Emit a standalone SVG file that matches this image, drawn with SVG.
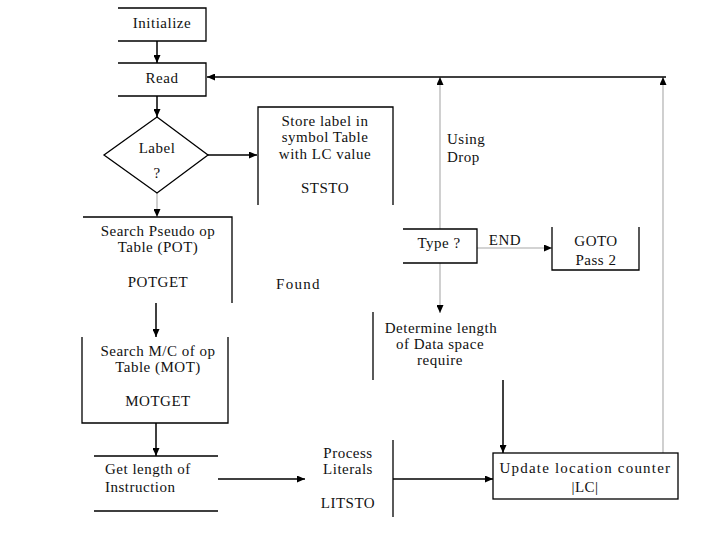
<svg xmlns="http://www.w3.org/2000/svg" width="720" height="540" viewBox="0 0 720 540">
<style>
.ln{stroke:#000;stroke-width:1.3;fill:none}
.cb{stroke:#000;stroke-width:1.5;fill:none}
.cg{stroke:#c4c4c4;stroke-width:1.6;fill:none}
.t{font-family:"Liberation Serif","Times New Roman","DejaVu Serif",serif;font-size:15px;letter-spacing:0.5px;fill:#111;text-anchor:middle}
.l{text-anchor:start}
</style>
<defs>
<marker id="ah" markerUnits="userSpaceOnUse" markerWidth="8" markerHeight="7" refX="8" refY="3.5" orient="auto">
<path d="M0,0 L8,3.5 L0,7 z" fill="#000"/>
</marker>
</defs>
<rect width="720" height="540" fill="#fff"/>
<g id="connectors">
<line class="cb" x1="157" y1="41" x2="157" y2="63" marker-end="url(#ah)"/>
<line class="cb" x1="157" y1="96" x2="157" y2="117" marker-end="url(#ah)"/>
<line class="cb" x1="208" y1="155" x2="257" y2="155" marker-end="url(#ah)"/>
<line class="cg" x1="157" y1="193" x2="157" y2="217" marker-end="url(#ah)"/>
<line class="cb" x1="156" y1="303" x2="156" y2="337" marker-end="url(#ah)"/>
<line class="cb" x1="156" y1="423" x2="156" y2="456" marker-end="url(#ah)"/>
<line class="cb" x1="218" y1="479" x2="305" y2="479" marker-end="url(#ah)"/>
<line class="cb" x1="393" y1="479" x2="493" y2="479" marker-end="url(#ah)"/>
<line class="cb" x1="503" y1="380" x2="503" y2="453" marker-end="url(#ah)"/>
<line class="cg" x1="440" y1="263" x2="440" y2="313" marker-end="url(#ah)"/>
<line class="cg" x1="477" y1="248" x2="552" y2="248" marker-end="url(#ah)"/>
<line class="cg" x1="440" y1="229" x2="440" y2="77" marker-end="url(#ah)"/>
<line class="cg" x1="663" y1="453" x2="663" y2="77" marker-end="url(#ah)"/>
<line class="cb" x1="666" y1="77" x2="207" y2="77" marker-end="url(#ah)"/>
</g>
<g id="initialize">
<path class="ln" d="M118,8 H206 V41 H118"/>
<text class="t" x="162" y="28">Initialize</text>
</g>
<g id="read">
<path class="ln" d="M118,63 H206 V96 H118"/>
<text class="t" x="162" y="83">Read</text>
</g>
<g id="label">
<path class="ln" d="M157,117 L208,155 L157,193 L104,155 Z"/>
<text class="t" x="157" y="153">Label</text>
<text class="t" x="157" y="178">?</text>
</g>
<g id="ststo">
<path class="ln" d="M258,205 V107 H393 V205"/>
<text class="t" x="325" y="126">Store label in</text>
<text class="t" x="325" y="142">symbol Table</text>
<text class="t" x="325" y="159">with LC value</text>
<text class="t" x="325" y="193">STSTO</text>
</g>
<g id="potget">
<path class="ln" d="M83,217 H232 V303"/>
<text class="t" x="158" y="236">Search Pseudo op</text>
<text class="t" x="158" y="252">Table (POT)</text>
<text class="t" x="158" y="287">POTGET</text>
</g>
<g id="found">
<text class="t l" x="276" y="289" textLength="44">Found</text>
</g>
<g id="motget">
<path class="ln" d="M82,337 V423 H228 V337"/>
<text class="t" x="158" y="356">Search M/C of op</text>
<text class="t" x="158" y="372">Table (MOT)</text>
<text class="t" x="158" y="406">MOTGET</text>
</g>
<g id="getlength">
<path class="ln" d="M94,456 H218 M94,511 H218"/>
<text class="t l" x="105" y="474">Get length of</text>
<text class="t l" x="105" y="492">Instruction</text>
</g>
<g id="litsto">
<path class="ln" d="M393,440 V517"/>
<text class="t" x="348" y="458">Process</text>
<text class="t" x="348" y="474">Literals</text>
<text class="t" x="348" y="508">LITSTO</text>
</g>
<g id="update">
<rect class="ln" x="493" y="453" width="185" height="46"/>
<text class="t" x="585" y="473" textLength="171">Update location counter</text>
<text class="t" x="585" y="492">|LC|</text>
</g>
<g id="type">
<path class="ln" d="M403,229 H477 V263 H403"/>
<text class="t" x="439" y="248">Type ?</text>
</g>
<g id="end-label">
<text class="t" x="505" y="245">END</text>
</g>
<g id="goto">
<path class="ln" d="M552,227 V270 H639 V227"/>
<text class="t" x="596" y="246">GOTO</text>
<text class="t" x="596" y="265">Pass 2</text>
</g>
<g id="using-drop">
<text class="t l" x="447" y="144">Using</text>
<text class="t l" x="447" y="162">Drop</text>
</g>
<g id="dataspace">
<path class="ln" d="M373,312 V380"/>
<text class="t" x="441" y="333">Determine length</text>
<text class="t" x="440" y="349">of Data space</text>
<text class="t" x="440" y="365">require</text>
</g>
</svg>
